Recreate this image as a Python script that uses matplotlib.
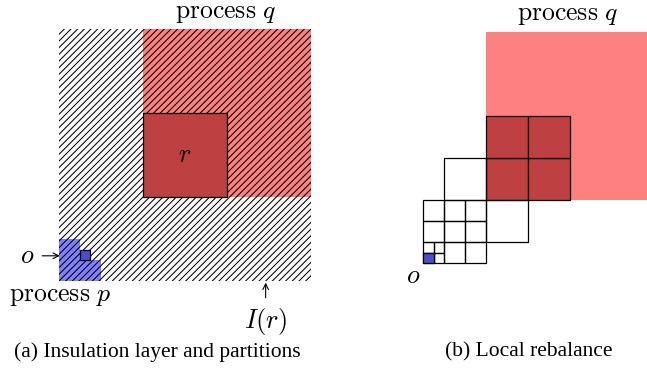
import matplotlib
matplotlib.use('Agg')
import matplotlib.pyplot as plt
from matplotlib.patches import Rectangle, Polygon

plt.rcParams['mathtext.fontset'] = 'cm'
plt.rcParams['hatch.linewidth'] = 0.75

# left panel, in units of the insulation cell
outer = (0, 0, 3)            # x, y, size of insulation layer I(r)
q_region = (1, 1, 2)         # process q
r_cell = (1, 1, 1)           # cell r
p_outline = [(0, 0), (0.5, 0), (0.5, 0.25), (0.25, 0.25), (0.25, 0.5), (0, 0.5)]
o_cell = (0.25, 0.25, 0.125)

# right panel, in units of the smallest full cell
small_cells = [(0, 0, 0.5), (0.5, 0, 0.5), (0, 0.5, 0.5), (0.5, 0.5, 0.5),
               (1, 0, 1), (2, 0, 1), (0, 1, 1), (1, 1, 1), (2, 1, 1),
               (0, 2, 1), (1, 2, 1), (2, 2, 1),
               (3, 1, 2), (1, 3, 2)]
dark_cells = [(3, 3, 2), (5, 3, 2), (3, 5, 2), (5, 5, 2)]
q_region_b = (3, 3, 8)
o_cell_b = (0, 0, 0.5)

light_red = '#ff8080'
dark_red = '#bf4040'
light_blue = '#8080ff'
dark_blue = '#4d4dcc'

W, H = 647, 372
fig = plt.figure(figsize=(W / 100, H / 100), dpi=100)

# ---- (a)
u = 84.0
ox, oy = 59, 281
ax = fig.add_axes([0, 0, 330 / W, 1])
ax.set_xlim(-ox / u, (330 - ox) / u)
ax.set_ylim((oy - H) / u, oy / u)
ax.axis('off')

x, y, s = q_region
ax.add_patch(Rectangle((x, y), s, s, facecolor=light_red, edgecolor='none', zorder=1))
ax.add_patch(Polygon(p_outline, closed=True, facecolor=light_blue, edgecolor='none', zorder=1))
x, y, s = outer
ax.add_patch(Rectangle((x, y), s, s, fill=False, hatch='/////', edgecolor='black',
                       linewidth=0, zorder=2))
x, y, s = r_cell
ax.add_patch(Rectangle((x, y), s, s, facecolor=dark_red, edgecolor='black', linewidth=0.9, zorder=3))
x, y, s = o_cell
ax.add_patch(Rectangle((x, y), s, s, facecolor=dark_blue, edgecolor='black', linewidth=0.9, zorder=3))

ax.text(1.5, 1.5, r'$r$', fontsize=19, ha='center', va='center', zorder=4)
ax.text(1.99, 3.2, r'$\mathrm{process}\ q$', fontsize=18.5, ha='center', va='center')
ax.text(0.01, -0.17, r'$\mathrm{process}\ p$', fontsize=18.5, ha='center', va='center')
ax.text(-0.38, 0.3, r'$o$', fontsize=19, ha='center', va='center')
ax.annotate('', xy=(0.01, 0.3), xytext=(-0.2, 0.3),
            arrowprops=dict(arrowstyle='->', lw=0.8, color='black', shrinkA=0, shrinkB=0))
ax.text(2.46, -0.48, r'$I(r)$', fontsize=19, ha='center', va='center')
ax.annotate('', xy=(2.46, -0.02), xytext=(2.46, -0.2),
            arrowprops=dict(arrowstyle='->', lw=0.8, color='black', shrinkA=0, shrinkB=0))

# ---- (b)
v = 21.0
bx, by = 423, 263
ax2 = fig.add_axes([330 / W, 0, (W - 330) / W, 1])
ax2.set_xlim((330 - bx) / v, (W - bx) / v)
ax2.set_ylim((by - H) / v, by / v)
ax2.axis('off')

x, y, s = q_region_b
ax2.add_patch(Rectangle((x, y), s, s, facecolor=light_red, edgecolor='none', zorder=1))
for x, y, s in dark_cells:
    ax2.add_patch(Rectangle((x, y), s, s, facecolor=dark_red, edgecolor='black', linewidth=0.9, zorder=2))
for x, y, s in small_cells:
    ax2.add_patch(Rectangle((x, y), s, s, facecolor='none', edgecolor='black', linewidth=0.9, zorder=2))
x, y, s = o_cell_b
ax2.add_patch(Rectangle((x, y), s, s, facecolor=dark_blue, edgecolor='black', linewidth=0.9, zorder=3))

ax2.text(-0.48, -0.6, r'$o$', fontsize=19, ha='center', va='center')
ax2.text(6.9, 11.86, r'$\mathrm{process}\ q$', fontsize=18.5, ha='center', va='center')

fig.text(157 / W, 1 - 352 / H, '(a) Insulation layer and partitions', fontsize=15.5,
         family='Liberation Serif', ha='center', va='center')
fig.text(529 / W, 1 - 352 / H, '(b) Local rebalance', fontsize=15.5,
         family='Liberation Serif', ha='center', va='center')

fig.savefig('out.png', dpi=100)
